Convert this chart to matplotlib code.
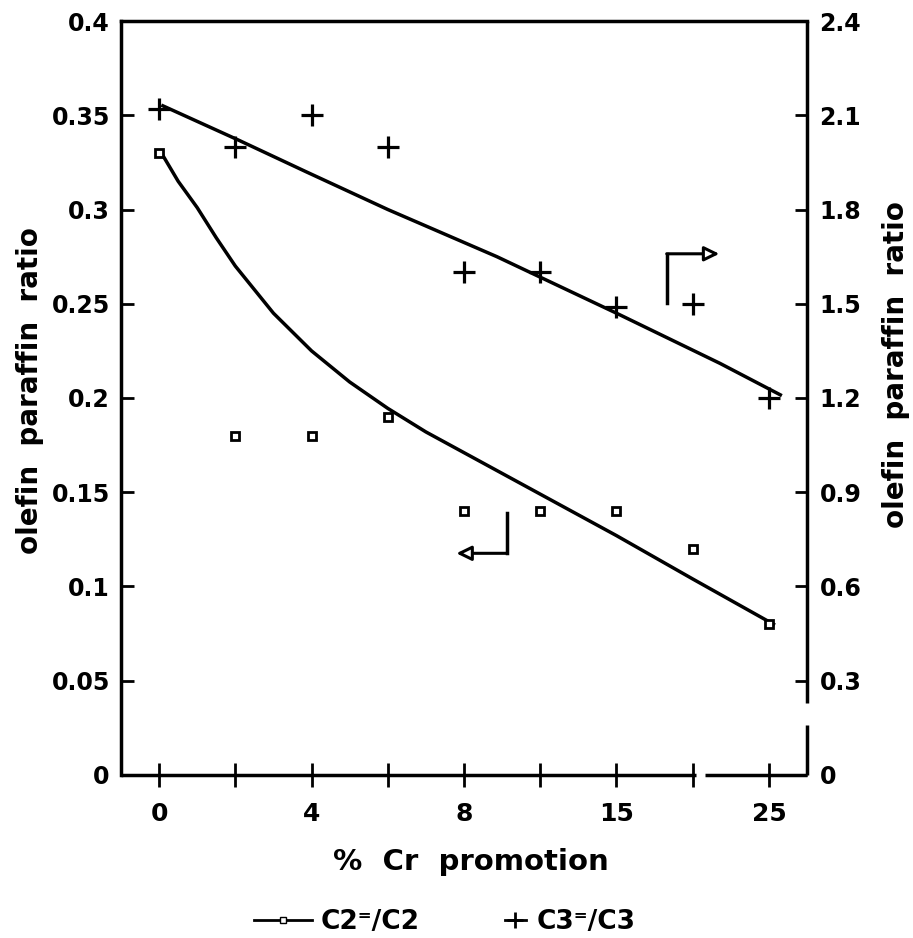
import matplotlib.pyplot as plt
from matplotlib.lines import Line2D

plt.rcParams['font.family'] = 'DejaVu Sans'
plt.rcParams['font.weight'] = 'bold'

# categories (% Cr promotion), only every other tick is labelled
x_pos = list(range(9))
x_labels = ['0', '', '4', '', '8', '', '15', '', '25']

# measured points
c2_ratio = [0.33, 0.18, 0.18, 0.19, 0.14, 0.14, 0.14, 0.12, 0.08]     # left axis
c3_ratio = [2.12, 2.00, 2.10, 2.00, 1.60, 1.60, 1.49, 1.50, 1.20]     # right axis

# fitted curves (x in category positions)
c2_fit_x = [0.03, 0.25, 0.5, 0.75, 1.0, 1.5, 2.0, 2.5, 3.0, 3.5, 4.0, 5.0, 6.0, 7.0, 8.06]
c2_fit_y = [0.330, 0.315, 0.301, 0.285, 0.270, 0.245, 0.225, 0.2085, 0.1945, 0.182,
            0.171, 0.149, 0.127, 0.104, 0.080]
c3_fit_x = [0.05, 1.05, 1.93, 3.0, 4.43, 6.0, 7.36, 8.15]
c3_fit_y = [2.13, 2.02, 1.92, 1.80, 1.65, 1.47, 1.31, 1.21]

left_ticks = [0, 0.05, 0.1, 0.15, 0.2, 0.25, 0.3, 0.35, 0.4]
left_labels = ['0', '0.05', '0.1', '0.15', '0.2', '0.25', '0.3', '0.35', '0.4']
right_ticks = [0, 0.3, 0.6, 0.9, 1.2, 1.5, 1.8, 2.1, 2.4]
right_labels = ['0', '0.3', '0.6', '0.9', '1.2', '1.5', '1.8', '2.1', '2.4']

fig = plt.figure(figsize=(9.13, 9.38), dpi=100)
ax = fig.add_axes([0.1325, 0.1738, 0.7514, 0.8038])
ax2 = ax.twinx()

# C2 on left axis
ax.plot(c2_fit_x, c2_fit_y, color='black', lw=2.5)
ax.plot(x_pos, c2_ratio, 's', ms=5.5, mfc='white', mec='black', mew=2)

# C3 on right axis
ax2.plot(c3_fit_x, c3_fit_y, color='black', lw=2.5)
ax2.plot(x_pos, c3_ratio, '+', ms=16, mew=2.3, color='black')

ax.set_xlim(-0.5, 8.5)
ax.set_ylim(0, 0.4)
ax2.set_ylim(0, 2.4)

ax.set_xticks(x_pos)
ax.set_xticklabels(x_labels)
ax.set_yticks(left_ticks)
ax.set_yticklabels(left_labels)
ax2.set_yticks(right_ticks)
ax2.set_yticklabels(right_labels)

ax.tick_params(axis='x', direction='inout', length=17, width=2, pad=11, labelsize=18)
ax.tick_params(axis='y', direction='in', length=9, width=2, pad=8, labelsize=17)
ax2.tick_params(axis='y', direction='in', length=9, width=2, pad=9, labelsize=17)

# frame with the small breaks seen on the bottom and right axes
for s in ax2.spines.values():
    s.set_visible(False)
ax.spines['bottom'].set_visible(False)
ax.spines['right'].set_visible(False)
ax.spines['left'].set_linewidth(2.5)
ax.spines['top'].set_linewidth(2.5)
frame = dict(color='black', lw=2.5, transform=ax.transAxes, clip_on=False,
             solid_capstyle='butt')
ax.plot([0, 0.838], [0, 0], **frame)
ax.plot([0.851, 1], [0, 0], **frame)
ax.plot([1, 1], [0, 0.066], **frame)
ax.plot([1, 1], [0.0955, 1], **frame)

# arrows pointing to the axis each curve belongs to
arrow = dict(arrowstyle='-|>,head_length=0.45,head_width=0.22', lw=2.2,
             fc='white', ec='black', mutation_scale=20, shrinkA=0, shrinkB=0)
ax.plot([6.66, 6.66], [0.2505, 0.2765], color='black', lw=2.5)
ax.annotate('', xy=(7.35, 0.2765), xytext=(6.66, 0.2765), arrowprops=arrow)
ax.plot([4.57, 4.57], [0.1388, 0.1176], color='black', lw=2.5)
ax.annotate('', xy=(3.9, 0.1176), xytext=(4.57, 0.1176), arrowprops=arrow)

ax.set_xlabel('%  Cr  promotion', fontsize=21, fontweight='bold')
ax.xaxis.set_label_coords(0.51, -0.097)
ax.xaxis.label.set_va('top')

fig.text(0.033, 0.584, 'olefin  paraffin  ratio', rotation=90, fontsize=20,
         ha='center', va='center')
fig.text(0.981, 0.611, 'olefin  paraffin  ratio', rotation=90, fontsize=20,
         ha='center', va='center')

h_c2 = Line2D([], [], color='black', lw=2, marker='s', ms=4, mfc='white', mec='black')
h_c3 = Line2D([], [], color='black', lw=2, marker='+', ms=12, mew=2)
fig.legend([h_c2], ['C2⁼/C2'], loc='center left', bbox_to_anchor=(0.278, 0.017),
           frameon=False, fontsize=19, handlelength=2.2, handletextpad=0.35,
           borderpad=0, borderaxespad=0)
fig.legend([h_c3], ['C3⁼/C3'], loc='center left', bbox_to_anchor=(0.553, 0.017),
           frameon=False, fontsize=19, handlelength=0.8, handletextpad=0.4,
           borderpad=0, borderaxespad=0)

fig.savefig('out.png', dpi=100)
